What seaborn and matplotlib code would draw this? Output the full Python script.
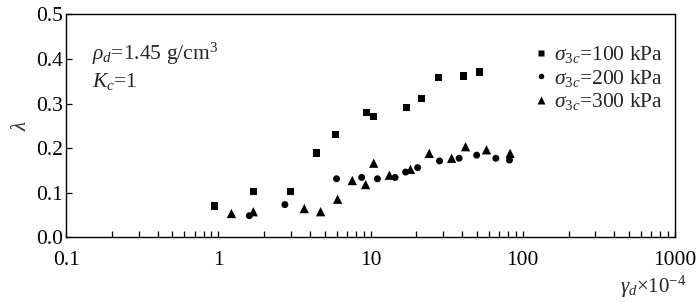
import numpy as np
import pandas as pd
import matplotlib
matplotlib.use("Agg")
import matplotlib.pyplot as plt
import seaborn as sns
from matplotlib.ticker import LogLocator, NullFormatter, FixedLocator

# ---- data ----
x100 = [0.94, 1.70, 2.97, 4.40, 5.90, 9.42, 10.5, 17.3, 21.7, 28.0, 40.6, 52.0]
y100 = [0.070, 0.103, 0.103, 0.189, 0.230, 0.279, 0.270, 0.291, 0.312, 0.358, 0.362, 0.371]

x200 = [1.60, 2.74, 5.98, 8.75, 11.1, 14.5, 17.0, 20.4, 28.4, 38.2, 49.8, 66.6, 81.8]
y200 = [0.048, 0.073, 0.131, 0.134, 0.131, 0.134, 0.146, 0.156, 0.171, 0.177, 0.184, 0.177, 0.173]

x300 = [1.22, 1.70, 3.67, 4.70, 6.08, 7.59, 9.29, 10.5, 13.3, 18.3, 24.3, 34.1, 42.1, 57.8, 82.6]
y300 = [0.053, 0.057, 0.064, 0.057, 0.085, 0.127, 0.118, 0.166, 0.139, 0.152, 0.188, 0.177, 0.203, 0.196, 0.188]

series_labels = [r"$\sigma_{3c}$=100 kPa", r"$\sigma_{3c}$=200 kPa", r"$\sigma_{3c}$=300 kPa"]
y_ticks = [0.0, 0.1, 0.2, 0.3, 0.4, 0.5]
x_ticks = [0.1, 1, 10, 100, 1000]
x_tick_labels = ["0.1", "1", "10", "100", "1000"]

df = pd.DataFrame({
    "x": x100 + x200 + x300,
    "y": y100 + y200 + y300,
    "series": [series_labels[0]] * len(x100) + [series_labels[1]] * len(x200) + [series_labels[2]] * len(x300),
})

sns.set_theme(style="white")
plt.rcParams["font.family"] = ["Liberation Serif", "DejaVu Serif"]
plt.rcParams["mathtext.fontset"] = "custom"
plt.rcParams["mathtext.rm"] = "Liberation Serif"
plt.rcParams["mathtext.it"] = "Liberation Serif:italic"

fig = plt.figure(figsize=(7.0, 3.02), dpi=100)
ax = fig.add_axes([0.0943, 0.215, 0.8700, 0.737])
ax.set_xscale("log")

sns.scatterplot(
    data=df, x="x", y="y", style="series", hue="series", size="series",
    palette=["black"] * 3,
    markers={series_labels[0]: "s", series_labels[1]: "o", series_labels[2]: "^"},
    sizes={series_labels[0]: 27, series_labels[1]: 25, series_labels[2]: 45},
    edgecolor="none", ax=ax, legend=True,
)

ax.set_xlim(0.1, 1000)
ax.set_ylim(0.0, 0.5)
ax.set_yticks(y_ticks)
ax.set_yticklabels([f"{v:.1f}" for v in y_ticks])
ax.xaxis.set_major_locator(FixedLocator(x_ticks))
ax.set_xticklabels(x_tick_labels)
ax.xaxis.set_minor_locator(LogLocator(base=10, subs=np.arange(2, 10)))
ax.xaxis.set_minor_formatter(NullFormatter())

for sp in ax.spines.values():
    sp.set_color("black")
    sp.set_linewidth(1.0)

ax.tick_params(axis="x", which="both", direction="in", length=4, width=0.9,
               top=False, bottom=True, labelsize=15.5, pad=10, colors="black")
ax.tick_params(axis="y", which="major", direction="in", length=4, width=0.9,
               left=True, right=False, labelsize=15.5, pad=2, colors="black")

ax.set_xlabel("")
ax.set_ylabel(r"$\lambda$", fontsize=15, labelpad=4)

ax.text(0.043, 0.796, r"$\rho_d$=1.45 g/cm$^3$", transform=ax.transAxes, fontsize=15.5)
ax.text(0.043, 0.674, r"$K_c$=1", transform=ax.transAxes, fontsize=15.5)

fig.text(0.886, 0.03, r"$\gamma_d$×10$^{-4}$", fontsize=15)

leg = ax.legend(loc="upper right", bbox_to_anchor=(0.994, 0.905), frameon=False,
                fontsize=15.5, handletextpad=0.2, labelspacing=0.12,
                borderaxespad=0.0, markerscale=0.8, handlelength=0.8)

fig.savefig("out.png", dpi=100)
